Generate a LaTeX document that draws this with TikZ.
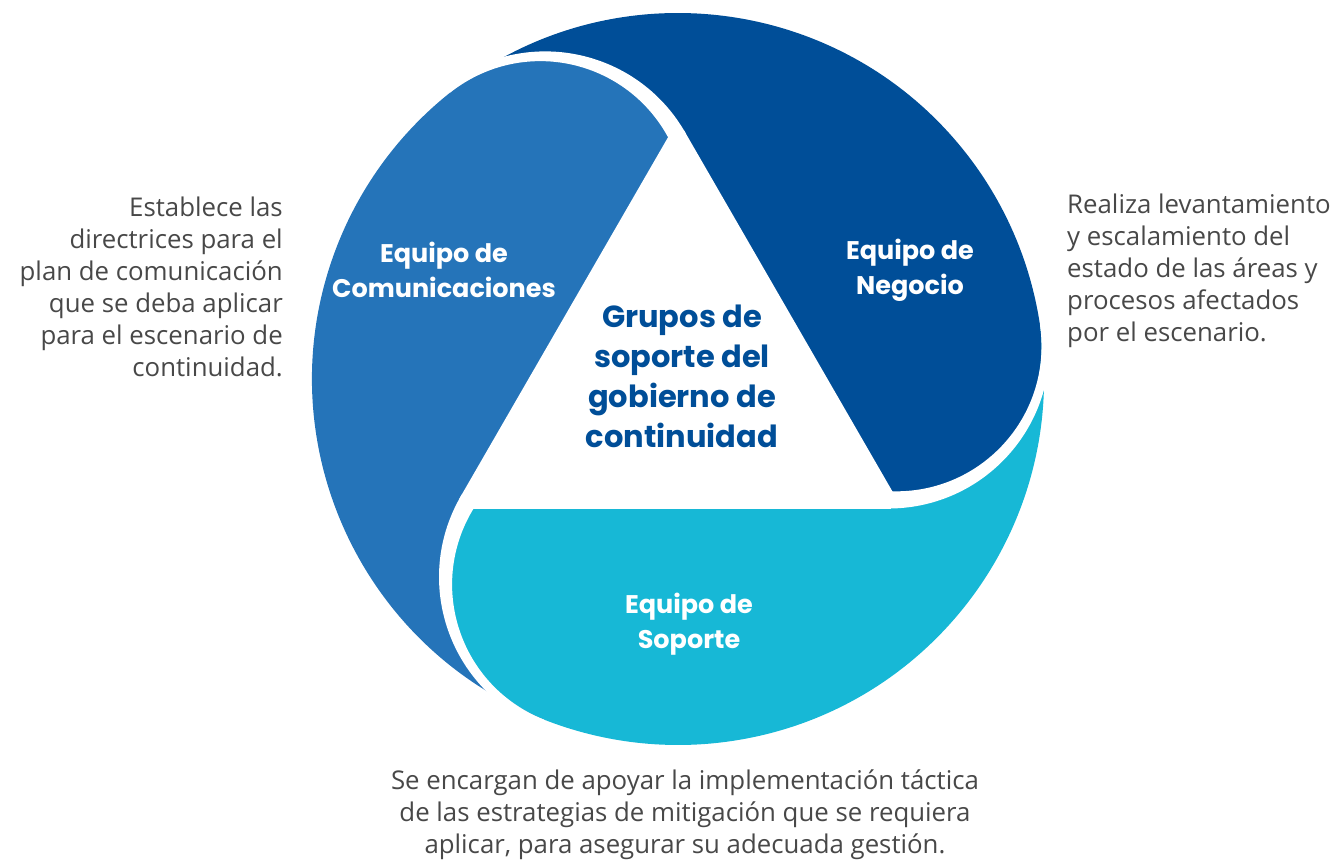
\documentclass[tikz,border=0pt]{standalone}
\usepackage{fontspec}
\setmainfont{Open Sans}
\newfontfamily\popb{Poppins}
\definecolor{dblue}{RGB}{0,78,152}
\definecolor{mblue}{RGB}{37,116,185}
\definecolor{cyanb}{RGB}{23,184,214}
\definecolor{txtgray}{RGB}{72,72,72}
\begin{document}
\begin{tikzpicture}[x=1pt,y=1pt,
  desc/.style={font=\fontsize{25.8}{32}\selectfont, text=txtgray, inner sep=0pt},
  lbl/.style={font=\popb\bfseries\fontsize{25.5}{35}\selectfont, text=white, align=center, inner sep=0pt},
  ttl/.style={font=\popb\bfseries\fontsize{30.5}{40}\selectfont, text=dblue, align=center, inner sep=0pt}]
\useasboundingbox (0,-862) rectangle (1335,0);
\begin{scope}[shift={(678,-379)}]
 \foreach \rot/\col in {0/dblue, -120/cyanb, 120/mblue}{
   \begin{scope}[rotate=\rot]
   \fill[\col] (128.56:366) arc[start angle=128.56,end angle=8.56,radius=366]
      arc[start angle=8.56,end angle=-90,radius=153.18] -- (0,243)
      arc[start angle=30,end angle=128.56,radius=153.18] -- cycle;
   \end{scope}
 }
 \foreach \rot in {0,120,-120}{
   \begin{scope}[rotate=\rot]
   \begin{scope}
     \clip (210.44,31.68) -- (203.46,-367.71) -- (516.84,-225.43) -- (605.98,91.22) -- cycle;
     \fill[white,even odd rule] (210.44,31.68) circle[radius=161.18] (218.35,32.87) circle[radius=145.18];
   \end{scope}
   \fill[white] (-210.44,-129.5) rectangle (213,-113.5);
   \end{scope}
 }
\end{scope}
\node[lbl] (com) at (444,-270) {Equipo de\\Comunicaciones};
\node[lbl] (neg) at (910,-270) {Equipo de\\Negocio};
\node[lbl] (sop) at (689,-624) {Equipo de\\Soporte};
\node[ttl] (ttl) at (682,-376) {Grupos de\\soporte del\\gobierno de\\continuidad};
\node[desc, align=right, anchor=east] (dl) at (283,-287) {Establece las\\directrices para el\\plan de comunicación\\que se deba aplicar\\para el escenario de\\continuidad.};
\node[desc, align=left, anchor=west] (dr) at (1067,-271) {Realiza levantamiento\\y escalamiento del\\estado de las áreas y\\procesos afectados\\por el escenario.};
\node[desc, align=center] (db) at (685,-815) {Se encargan de apoyar la implementación táctica\\de las estrategias de mitigación que se requiera\\aplicar, para asegurar su adecuada gestión.};
\end{tikzpicture}
\end{document}
